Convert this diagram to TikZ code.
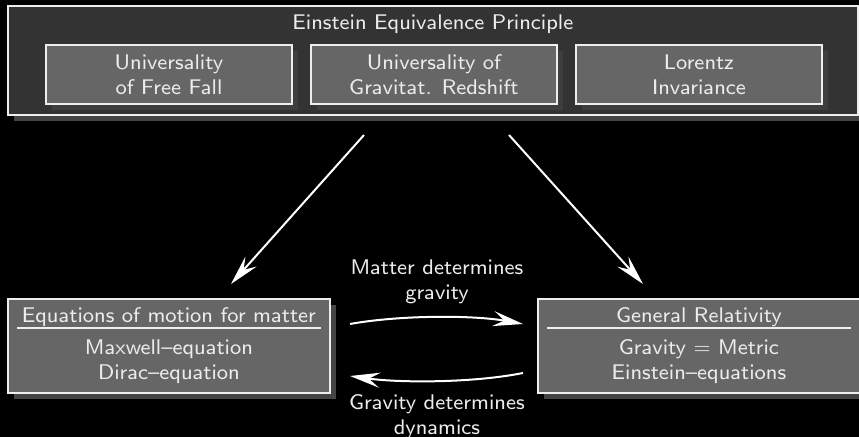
\documentclass[tikz,border=0pt]{standalone}
\usetikzlibrary{arrows.meta,shadows,calc}
\DeclareFontFamily{OT1}{myss}{}
\DeclareFontShape{OT1}{myss}{m}{n}{<-> cmss8}{}
\definecolor{outerfill}{RGB}{51,51,51}
\definecolor{boxfill}{RGB}{102,102,102}
\definecolor{shadowA}{RGB}{68,68,68}
\definecolor{shadowB}{RGB}{62,62,62}
\definecolor{edgec}{RGB}{238,238,238}
\definecolor{txtc}{RGB}{236,236,236}
\tikzset{
  lbl/.style={text=txtc, align=center, inner sep=0pt,
    font=\fontencoding{OT1}\fontfamily{myss}\fontsize{10.6}{12.5}\selectfont},
  framebox/.style={draw=edgec, line width=0.9pt, inner sep=0pt,
    general shadow={fill=shadowA, shadow xshift=3pt, shadow yshift=-3pt}},
  outerbox/.style={framebox, fill=outerfill, minimum width=425pt, minimum height=54.5pt},
  innerbox/.style={framebox, lbl, fill=boxfill, minimum width=123pt, minimum height=29.5pt,
    general shadow={fill=shadowB, shadow xshift=3pt, shadow yshift=-3pt}},
  lowbox/.style={framebox, fill=boxfill, minimum width=161pt, minimum height=47pt},
  rule/.style={draw=edgec, line width=0.6pt},
  arr/.style={draw=white, line width=1pt, -{Stealth[length=15pt,width=7.5pt,inset=5.5pt]}}
}
\begin{document}
\begin{tikzpicture}[x=0.5pt,y=-0.5pt]
\fill[black] (0,0) rectangle (859,437);
\useasboundingbox (0,0) rectangle (859,437);

% top principle
\node[outerbox] (eep) at (433,60.5) {};
\node[lbl] (eeptitle) at (433,24) {Einstein Equivalence Principle};
\node[innerbox] (uff) at (169,74.5) {Universality\\of Free Fall};
\node[innerbox] (ugr) at (434,74.5) {Universality of\\Gravitat. Redshift};
\node[innerbox] (li) at (699,74.5) {Lorentz\\Invariance};

% lower left box
\node[lowbox] (eom) at (169,346) {};
\node[lbl] (eomtitle) at (169,317) {Equations of motion for matter};
\draw[rule] ($(eom.north west)+(10,30)$) -- ($(eom.north east)+(-10,30)$);
\node[lbl] (eomlines) at (169,361.5) {Maxwell--equation\\Dirac--equation};

% lower right box
\node[lowbox] (gr) at (699,346) {};
\node[lbl] (grtitle) at (699,317) {General Relativity};
\draw[rule] ($(gr.north west)+(10,30)$) -- ($(gr.north east)+(-10,30)$);
\node[lbl] (grlines) at (699,361.5) {Gravity $=$ Metric\\Einstein--equations};

% diagonal arrows
\coordinate (d1s) at (364,135); \coordinate (d1e) at (231,284);
\coordinate (d2s) at (509,135); \coordinate (d2e) at (643,284);
\draw[arr] (d1s) -- (d1e);
\draw[arr] (d2s) -- (d2e);

% curved arrows
\coordinate (m1s) at (350,324); \coordinate (m1e) at (523,324);
\draw[arr] (m1s) .. controls (400,315) and (473,315) .. (m1e);
\coordinate (g1s) at (523,373); \coordinate (g1e) at (350,376);
\draw[arr] (g1s) .. controls (473,383) and (400,383) .. (g1e);

\node[lbl] (mdg) at (437,282) {Matter determines\\gravity};
\node[lbl] (gdd) at (437,417) {Gravity determines\\dynamics};
\end{tikzpicture}
\end{document}
